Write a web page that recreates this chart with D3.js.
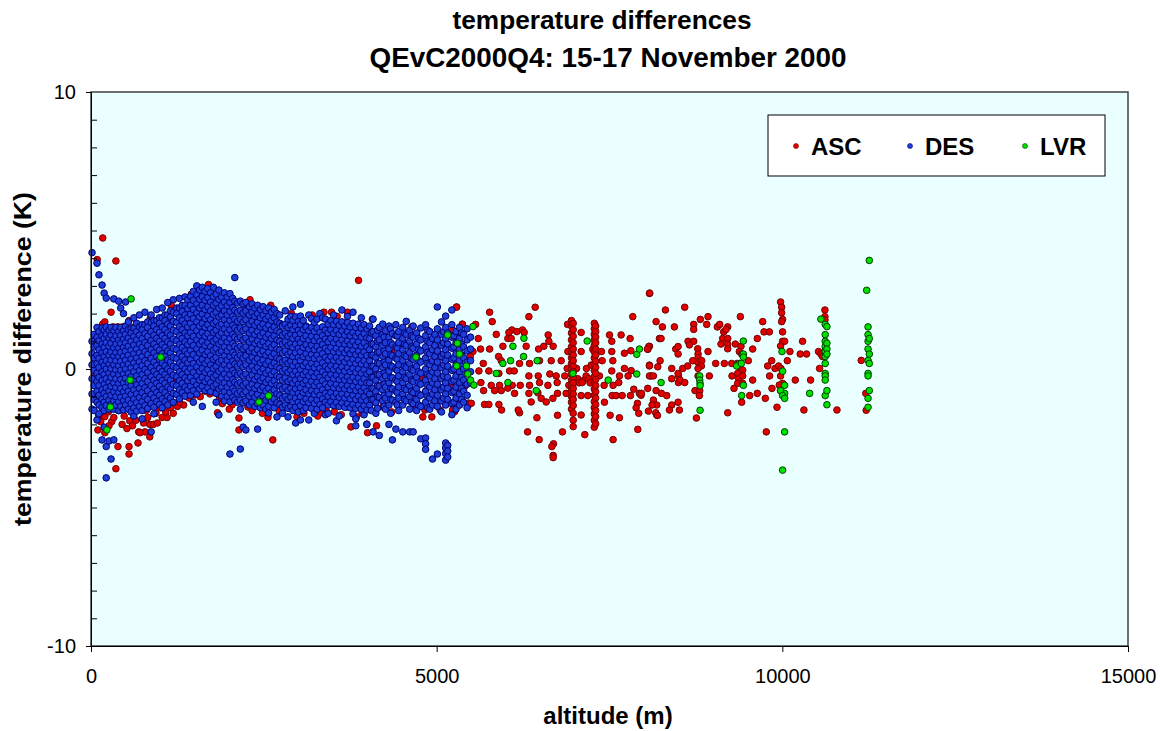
<!DOCTYPE html>
<html><head><meta charset="utf-8">
<script src="https://cdn.jsdelivr.net/npm/d3@7"></script>
<style>body{margin:0;background:#fff;}svg{display:block;font-family:"Liberation Sans",Arial,sans-serif;}</style>
</head><body>
<svg id="c" width="1160" height="731"></svg>
<script>
const titleLines=["temperature differences","QEvC2000Q4: 15-17 November 2000"];
const xLabel="altitude (m)";
const yLabel="temperature difference (K)";
const xTicks=[0,5000,10000,15000];
const yTicks=[-10,0,10];
const yMinorTicks=[-9,-8,-7,-6,-5,-4,-3,-2,-1,1,2,3,4,5,6,7,8,9];
const seriesNames=["ASC","DES","LVR"];

// DES: [altitude, [differences...]]
const desCols=[
[15,[4.2,1.0,0.55,0.15,-0.35,-0.9,-1.45]],
[45,[1.25,0.8,0.4,-0.05,-0.6,-1.1,-1.5]],
[87,[3.82,1.5,1.15,0.85,0.5,0.2,-0.15,-0.45,-0.8,-1.2,-1.84]],
[115,[3.4,1.35,1.02,0.7,0.38,0.05,-0.3,-0.6,-0.95,-1.3,-1.62]],
[160,[3.03,1.48,1.2,0.9,0.58,0.25,-0.1,-0.42,-0.75,-1.08,-1.4,-2.56]],
[190,[2.74,1.4,1.1,0.78,0.45,0.12,-0.2,-0.55,-0.88,-1.2,-1.5,-2.1]],
[220,[2.56,1.52,1.25,0.95,0.62,0.3,0.0,-0.35,-0.68,-1.0,-1.32,-2.8,-3.93]],
[260,[1.4,1.12,0.82,0.5,0.18,-0.15,-0.48,-0.8,-1.12,-1.45,-2.6]],
[290,[1.5,1.22,0.93,0.62,0.32,0.02,-0.3,-0.62,-0.95,-1.28,-3.25]],
[330,[2.53,1.38,1.08,0.77,0.47,0.15,-0.18,-0.5,-0.82,-1.15,-1.45,-2.56]],
[360,[1.5,1.2,0.9,0.6,0.3,-0.02,-0.35,-0.67,-1.0,-1.3]],
[400,[2.45,1.35,1.05,0.75,0.45,0.12,-0.2,-0.52,-0.85,-1.18,-1.5]],
[430,[2.2,1.5,1.22,0.92,0.6,0.28,-0.05,-0.38,-0.7,-1.02,-1.35]],
[470,[2.0,1.38,1.08,0.78,0.46,0.14,-0.18,-0.5,-0.83,-1.15,-1.48]],
[500,[2.42,1.55,1.25,0.95,0.64,0.32,0.0,-0.33,-0.66,-0.98,-1.3]],
[540,[1.7,1.42,1.12,0.82,0.5,0.18,-0.15,-0.48,-0.8,-1.12,-1.45]],
[580,[1.45,1.3,1.0,0.68,0.36,0.04,-0.28,-0.6,-0.92,-1.25,-1.55]],
[620,[1.85,1.48,1.18,0.86,0.55,0.22,-0.1,-0.42,-0.75,-1.08,-1.4,-1.7]],
[660,[1.65,1.35,1.05,0.72,0.4,0.08,-0.25,-0.57,-0.9,-1.22,-1.52]],
[700,[1.95,1.52,1.22,0.9,0.58,0.26,-0.06,-0.38,-0.7,-1.03,-1.35]],
[740,[1.6,1.42,1.1,0.78,0.45,0.12,-0.2,-0.52,-0.85,-1.18,-1.5,-1.8]],
[780,[2.05,1.6,1.28,0.95,0.62,0.3,-0.02,-0.35,-0.68,-1.0,-1.32]],
[820,[1.7,1.5,1.18,0.85,0.52,0.2,-0.12,-0.45,-0.78,-1.1,-1.42]],
[870,[1.95,1.68,1.35,1.02,0.7,0.38,0.05,-0.28,-0.6,-0.92,-1.25,-2.27]],
[910,[1.75,1.55,1.22,0.9,0.58,0.25,-0.08,-0.4,-0.72,-1.05,-1.38,-1.62]],
[950,[2.15,1.75,1.42,1.1,0.78,0.45,0.12,-0.2,-0.52,-0.85,-1.18]],
[990,[1.85,1.65,1.32,1.0,0.68,0.35,0.02,-0.3,-0.62,-0.95,-1.28]],
[1030,[2.2,1.85,1.52,1.2,0.88,0.55,0.22,-0.1,-0.42,-0.75,-1.08,-1.4]],
[1070,[1.95,1.75,1.42,1.1,0.78,0.45,0.12,-0.2,-0.52,-0.85,-1.18]],
[1110,[2.4,1.95,1.62,1.3,0.98,0.65,0.32,0.0,-0.32,-0.65,-0.98,-1.3]],
[1150,[2.1,1.88,1.55,1.22,0.9,0.58,0.25,-0.08,-0.4,-0.72,-1.05]],
[1190,[2.5,2.05,1.72,1.4,1.08,0.75,0.42,0.1,-0.22,-0.55,-0.88,-1.2]],
[1240,[2.2,2.0,1.68,1.35,1.02,0.7,0.38,0.05,-0.28,-0.6,-0.92]],
[1280,[2.55,2.2,1.85,1.52,1.2,0.88,0.55,0.22,-0.1,-0.42,-0.75,-1.08]],
[1320,[2.3,2.08,1.75,1.42,1.1,0.78,0.45,0.12,-0.2,-0.52,-0.85]],
[1360,[2.6,2.3,1.95,1.62,1.3,0.98,0.65,0.32,0.0,-0.32,-0.65,-0.98]],
[1400,[2.5,2.18,1.85,1.52,1.2,0.88,0.55,0.22,-0.1,-0.42,-0.75]],
[1440,[2.62,2.3,1.98,1.65,1.32,1.0,0.68,0.35,0.02,-0.3,-0.62,-0.95]],
[1480,[2.8,2.48,2.15,1.82,1.5,1.18,0.85,0.52,0.2,-0.12,-0.45,-0.78,-1.2]],
[1530,[3.0,2.68,2.35,2.02,1.7,1.38,1.05,0.72,0.4,0.08,-0.25,-0.58,-0.9]],
[1570,[2.85,2.52,2.2,1.88,1.55,1.22,0.9,0.58,0.25,-0.08,-0.4,-0.72]],
[1610,[2.95,2.62,2.3,1.98,1.65,1.32,1.0,0.68,0.35,0.02,-0.3,-0.62,-1.35]],
[1650,[2.8,2.48,2.15,1.82,1.5,1.18,0.85,0.52,0.2,-0.12,-0.45,-0.78]],
[1690,[2.9,2.58,2.25,1.92,1.6,1.28,0.95,0.62,0.3,-0.02,-0.35,-0.68]],
[1730,[2.75,2.42,2.1,1.78,1.45,1.12,0.8,0.48,0.15,-0.18,-0.5,-0.82]],
[1770,[2.95,2.62,2.3,1.98,1.65,1.32,1.0,0.68,0.35,0.02,-0.3,-0.62]],
[1810,[2.7,2.38,2.05,1.72,1.4,1.08,0.75,0.42,0.1,-0.22,-0.55,-0.88,-1.2]],
[1850,[2.85,2.52,2.2,1.88,1.55,1.22,0.9,0.58,0.25,-0.08,-0.4,-0.72,-1.66]],
[1890,[2.6,2.28,1.95,1.62,1.3,0.98,0.65,0.32,0.0,-0.32,-0.65,-0.98]],
[1930,[2.75,2.42,2.1,1.78,1.45,1.12,0.8,0.48,0.15,-0.18,-0.5,-0.82,-1.15]],
[1970,[2.6,2.28,1.95,1.62,1.3,0.98,0.65,0.32,0.0,-0.32,-0.65,-0.98]],
[2010,[2.72,2.4,2.08,1.75,1.42,1.1,0.78,0.45,0.12,-0.2,-0.52,-0.85,-1.18,-3.07]],
[2050,[2.55,2.22,1.9,1.58,1.25,0.92,0.6,0.28,-0.05,-0.38,-0.7,-1.02]],
[2080,[3.3,2.45,2.12,1.8,1.48,1.15,0.82,0.5,0.18,-0.15,-0.48,-0.8,-1.12]],
[2120,[2.38,2.05,1.72,1.4,1.08,0.75,0.42,0.1,-0.22,-0.55,-0.88,-1.2]],
[2160,[2.45,2.12,1.8,1.48,1.15,0.82,0.5,0.18,-0.15,-0.48,-0.8,-1.12,-1.45,-2.89]],
[2200,[2.35,2.02,1.7,1.38,1.05,0.72,0.4,0.08,-0.25,-0.58,-0.9,-1.22,-2.1]],
[2240,[2.4,2.1,1.78,1.45,1.12,0.8,0.48,0.15,-0.18,-0.5,-0.82,-1.15,-2.2]],
[2290,[2.25,1.95,1.62,1.3,0.98,0.65,0.32,0.0,-0.32,-0.65,-0.98,-1.3]],
[2330,[2.35,2.05,1.72,1.4,1.08,0.75,0.42,0.1,-0.22,-0.55,-0.88,-1.2]],
[2370,[2.2,1.9,1.58,1.25,0.92,0.6,0.28,-0.05,-0.38,-0.7,-1.02,-1.35]],
[2410,[2.3,2.0,1.68,1.35,1.02,0.7,0.38,0.05,-0.28,-0.6,-0.92,-1.25,-2.17]],
[2450,[2.15,1.85,1.52,1.2,0.88,0.55,0.22,-0.1,-0.42,-0.75,-1.08,-1.4]],
[2490,[2.25,1.95,1.62,1.3,0.98,0.65,0.32,0.0,-0.32,-0.65,-0.98,-1.3]],
[2530,[2.1,1.8,1.48,1.15,0.82,0.5,0.18,-0.15,-0.48,-0.8,-1.12,-1.45]],
[2570,[2.2,1.9,1.58,1.25,0.92,0.6,0.28,-0.05,-0.38,-0.7,-1.02,-1.35,-1.59]],
[2610,[2.05,1.75,1.42,1.1,0.78,0.45,0.12,-0.2,-0.52,-0.85,-1.18]],
[2650,[2.15,1.85,1.52,1.2,0.88,0.55,0.22,-0.1,-0.42,-0.75,-1.08,-1.4]],
[2690,[2.0,1.7,1.38,1.05,0.72,0.4,0.08,-0.25,-0.58,-0.9,-1.22,-1.73]],
[2730,[1.95,1.65,1.32,1.0,0.68,0.35,0.02,-0.3,-0.62,-0.95,-1.28]],
[2770,[1.6,1.55,1.22,0.9,0.58,0.25,-0.08,-0.4,-0.72,-1.05,-1.38,-1.6]],
[2810,[2.1,1.62,1.3,0.98,0.65,0.32,0.0,-0.32,-0.65,-0.98,-1.3]],
[2850,[1.8,1.5,1.18,0.85,0.52,0.2,-0.12,-0.45,-0.78,-1.1,-1.42,-1.73]],
[2890,[1.9,1.58,1.25,0.92,0.6,0.28,-0.05,-0.38,-0.7,-1.02,-1.35]],
[2920,[2.24,1.75,1.42,1.1,0.78,0.45,0.12,-0.2,-0.52,-0.85,-1.18,-1.5]],
[2960,[1.88,1.55,1.22,0.9,0.58,0.25,-0.08,-0.4,-0.72,-1.05,-1.38,-1.95]],
[3000,[1.72,1.4,1.08,0.75,0.42,0.1,-0.22,-0.55,-0.88,-1.2,-1.55]],
[3030,[2.34,1.91,1.6,1.28,0.95,0.62,0.3,-0.02,-0.35,-0.68,-1.0,-1.32,-1.84]],
[3070,[1.75,1.42,1.1,0.78,0.45,0.12,-0.2,-0.52,-0.85,-1.18,-1.5]],
[3110,[1.55,1.52,1.2,0.88,0.55,0.22,-0.1,-0.42,-0.75,-1.08,-1.4]],
[3150,[1.95,1.38,1.05,0.72,0.4,0.08,-0.25,-0.58,-0.9,-1.22,-1.84]],
[3190,[1.82,1.5,1.18,0.85,0.52,0.2,-0.12,-0.45,-0.78,-1.1,-1.42]],
[3230,[1.68,1.35,1.02,0.7,0.38,0.05,-0.28,-0.6,-0.92,-1.25,-1.6]],
[3270,[1.8,1.48,1.15,0.82,0.5,0.18,-0.15,-0.48,-0.8,-1.12,-1.45]],
[3310,[2.0,1.32,1.0,0.68,0.35,0.02,-0.3,-0.62,-0.95,-1.28]],
[3350,[1.85,1.52,1.2,0.88,0.55,0.22,-0.1,-0.42,-0.75,-1.08,-1.4]],
[3390,[1.8,1.4,1.08,0.75,0.42,0.1,-0.22,-0.55,-0.88,-1.2,-1.65]],
[3430,[1.62,1.3,0.98,0.65,0.32,0.0,-0.32,-0.65,-0.98,-1.3,-1.6]],
[3470,[1.75,1.42,1.1,0.78,0.45,0.12,-0.2,-0.52,-0.85,-1.18]],
[3510,[1.95,1.6,1.28,0.95,0.62,0.3,-0.02,-0.35,-0.68,-1.0,-1.32]],
[3550,[1.72,1.4,1.08,0.75,0.42,0.1,-0.22,-0.55,-0.88,-1.2,-1.87]],
[3590,[1.58,1.25,0.92,0.6,0.28,-0.05,-0.38,-0.7,-1.02,-1.35,-1.7]],
[3630,[2.13,1.7,1.38,1.05,0.72,0.4,0.08,-0.25,-0.58,-0.9,-1.22]],
[3670,[1.55,1.22,0.9,0.58,0.25,-0.08,-0.4,-0.72,-1.05,-1.38]],
[3710,[1.9,1.68,1.35,1.02,0.7,0.38,0.05,-0.28,-0.6,-0.92,-1.25]],
[3750,[1.52,1.2,0.88,0.55,0.22,-0.1,-0.42,-0.75,-1.08,-1.4]],
[3790,[2.05,1.65,1.32,1.0,0.68,0.35,0.02,-0.3,-0.62,-0.95,-1.28,-1.62]],
[3830,[1.5,1.18,0.85,0.52,0.2,-0.12,-0.45,-0.78,-1.1,-1.42,-1.8,-2.05]],
[3870,[1.62,1.3,0.98,0.65,0.32,0.0,-0.32,-0.65,-0.98,-1.3]],
[3910,[1.85,1.48,1.15,0.82,0.5,0.18,-0.15,-0.48,-0.8,-1.12,-1.45]],
[3950,[1.6,1.28,0.95,0.62,0.3,-0.02,-0.35,-0.68,-1.0,-1.32,-1.65]],
[3990,[1.45,1.12,0.8,0.48,0.15,-0.18,-0.5,-0.82,-1.15,-1.48,-2.0]],
[4030,[1.55,1.1,0.7,0.3,-0.1,-0.5,-0.9,-1.3]],
[4055,[1.3,0.9,0.5,0.1,-0.3,-0.7,-1.1,-1.5]],
[4080,[1.8,1.35,0.9,0.5,0.1,-0.3,-0.7,-1.1,-2.27]],
[4120,[1.2,0.8,0.42,0.0,-0.42,-0.82,-1.22,-1.6]],
[4145,[1.4,1.0,0.6,0.22,-0.2,-0.6,-1.0,-1.42]],
[4170,[1.5,1.05,0.62,0.2,-0.2,-0.62,-1.02,-2.4]],
[4220,[1.62,1.25,0.85,0.45,0.05,-0.35,-0.75,-1.15]],
[4240,[1.15,0.65,0.25,-0.15,-0.55,-0.95,-1.35]],
[4260,[1.38,0.95,0.55,0.15,-0.25,-0.65,-1.05,-1.45]],
[4310,[1.55,1.15,0.72,0.32,-0.08,-0.5,-0.9,-1.3,-2.0]],
[4335,[1.45,0.95,0.52,0.12,-0.3,-0.7,-1.1,-1.6]],
[4360,[1.28,0.88,0.48,0.08,-0.32,-0.72,-1.12,-2.56]],
[4410,[1.6,1.2,0.8,0.4,0.0,-0.4,-0.8,-1.2,-2.17]],
[4430,[1.2,0.75,0.35,-0.05,-0.45,-0.85,-1.3]],
[4450,[1.35,0.95,0.55,0.15,-0.25,-0.65,-1.05,-1.5]],
[4510,[1.5,1.1,0.7,0.3,-0.1,-0.5,-0.9,-1.3,-2.27]],
[4535,[1.3,0.9,0.5,0.1,-0.3,-0.7,-1.1]],
[4560,[1.72,1.25,0.85,0.45,0.05,-0.35,-0.75,-1.15]],
[4610,[1.4,1.0,0.6,0.2,-0.2,-0.6,-1.0,-1.45,-2.27]],
[4635,[1.2,0.8,0.4,0.0,-0.4,-0.8,-1.2]],
[4660,[1.55,1.15,0.75,0.35,-0.05,-0.45,-0.85,-1.25,-2.27]],
[4710,[1.3,0.9,0.5,0.1,-0.3,-0.7,-1.1,-1.5]],
[4740,[1.1,0.7,0.3,-0.1,-0.5,-0.9,-1.3]],
[4770,[1.48,1.05,0.65,0.25,-0.15,-0.55,-0.95,-1.35,-2.52]],
[4840,[1.6,1.2,0.8,0.4,0.0,-0.4,-0.8,-1.2,-2.49,-2.7,-2.9]],
[4870,[1.4,1.0,0.6,0.2,-0.2,-0.6,-1.0,-1.4]],
[4900,[1.35,0.95,0.55,0.15,-0.25,-0.65,-1.05,-1.45]],
[4940,[1.1,0.7,0.3,-0.1,-0.5,-0.9,-1.3,-3.25]],
[4975,[1.25,0.85,0.45,0.05,-0.35,-0.75,-1.15]],
[5010,[2.24,1.45,1.05,0.65,0.25,-0.15,-0.55,-0.95,-1.35,-3.07]],
[5070,[1.7,1.25,0.85,0.45,0.05,-0.35,-0.75,-1.15,-1.55]],
[5100,[1.35,0.95,0.55,0.15,-0.25,-0.65,-1.05]],
[5130,[1.91,1.5,1.1,0.7,0.3,-0.1,-0.5,-0.9,-1.3,-2.67,-2.85,-3.05,-3.29]],
[5160,[1.3,0.9,0.5,0.1,-0.3,-0.7,-1.1,-2.76,-2.96,-3.18]],
[5220,[2.13,1.6,1.15,0.75,0.35,-0.05,-0.45,-0.85,-1.25,-1.65]],
[5250,[1.2,0.8,0.4,0.0,-0.4,-0.8,-1.2]],
[5280,[1.35,0.95,0.55,0.15,-0.25,-0.65,-1.05,-1.45]],
[5330,[1.5,1.1,0.7,0.3,-0.1,-0.5,-0.9,-1.3]],
[5360,[1.3,0.9,0.5,0.1,-0.3,-0.7,-1.1]],
[5390,[1.25,0.8,0.4,0.0,-0.4,-0.8,-1.2]],
[5440,[1.45,1.05,0.65,0.25,-0.15,-0.55,-0.95,-1.4]],
[5490,[1.15,0.72,0.3,-0.1,-0.5]]
];

// ASC vertical sounding columns: [altitude, [differences...]]
const ascCols=[
[6950,[1.75,1.55,1.3,1.05,0.8,0.6,0.4,0.2,0.0,-0.2,-0.4,-0.6,-0.8,-1.0,-1.2,-1.45]],
[6975,[1.65,1.42,1.18,0.95,0.72,0.5,0.3,0.1,-0.1,-0.3,-0.5,-0.7,-0.9,-1.1,-1.32,-1.6,-1.85,-2.08]],
[7280,[1.65,1.45,1.25,1.05,0.85,0.62,0.4,0.18,-0.05,-0.28,-0.5,-0.72,-0.95,-1.18,-1.4,-1.62,-1.85,-2.1]],
[7300,[1.55,1.35,1.15,0.95,0.72,0.5,0.28,0.06,-0.16,-0.38,-0.6,-0.82,-1.05,-1.28,-1.5,-1.72,-1.98]]
];
// ASC scattered points: [altitude, difference]
const ascPts=[
[170,4.73],[360,3.9],[90,3.95],[290,2.05],[170,1.62],[320,1.52],[390,1.52],[460,1.52],[610,1.5],[680,1.52],[750,1.48],[1030,1.73],[1100,1.73],[1290,2.2],[1910,2.13],[2220,2.2],
[200,1.7],[550,1.75],[860,1.85],[1160,2.3],[1450,2.7],[1700,3.05],[2300,2.5],[2600,2.3],[2900,2.0],[3200,1.95],[3560,1.9],
[30,-0.94],[60,-0.25],[130,-0.25],[100,-2.2],[170,-1.7],[200,-1.72],[200,-2.3],[390,-2.8],[550,-2.8],[550,-3.07],[360,-3.6],[680,-2.67],[690,-2.27],[780,-2.27],[850,-2.45],[850,-2.0],[900,-2.0],[960,-1.95],[1030,-1.75],[1100,-1.75],[1190,-1.6],[1340,-1.3],[1500,-0.94],[1650,-0.8],[1800,-0.7],[1830,-1.58],[1860,-1.05],[2040,-1.3],[2140,-1.77],[2140,-2.2],[2270,-1.37],[2630,-2.56],[560,-1.87],[110,-1.66],[710,-2.3],[300,-1.9],[450,-2.0],[620,-1.6],[800,-1.5],[1000,-1.4],[1250,-1.35],[400,-1.5],[250,-1.55],
[140,-1.9],[260,-2.05],[330,-1.75],[480,-1.7],[520,-2.15],[600,-2.05],[650,-1.85],[760,-1.95],[820,-1.75],[940,-1.6],[1080,-1.55],[1150,-1.4],[1280,-1.2],[1420,-1.05],[1580,-1.0],[1720,-0.9],[1900,-1.25],[2000,-1.45],[2330,-1.5],[2480,-1.6],[2560,-1.75],[2720,-1.5],[3080,-1.6],[3280,-1.7],[3520,-1.55],[3620,-1.65],[3920,-1.6],
[2850,-1.37],[2890,-1.2],[2980,-1.73],[3150,-1.05],[3240,-1.23],[3340,-1.58],[3400,-1.48],[3700,-1.37],[3760,-2.09],[3840,-1.73],[3990,-1.99],[4000,-2.3],[4130,-2.05],[3870,3.2],[3370,2.05],[3480,2.05],[3710,2.05],[3660,1.44],[3930,1.34],[4070,1.8],[3410,1.26],
[4640,1.52],[5290,2.24],[5370,1.62],[4450,-0.5],[4100,-1.05],[4220,-1.37],[4350,-1.55],[4710,-1.37],[4800,-1.73],[4930,-1.73],[5230,-1.23],[5320,-1.2],[5370,-0.65],[5460,-1.23],[5230,1.4],[5300,1.16],[5000,0.76],[4830,-1.48],[5050,-1.48],[5230,-1.48],[5330,-1.3],[5460,-1.3],[5284,-0.76],[5404,-0.64],[5140,-1.24],[5260,-1.54],
[300,0.5],[600,-0.3],[900,0.8],[1200,-0.5],[1500,1.0],[1800,0.2],[2100,1.5],[2400,-0.7],[2700,0.4],[3000,-0.9],[3300,0.7],[3600,-0.2],[3900,1.1],[4200,-0.6],[4500,0.9],[4800,-0.3],[5100,0.4],[150,0.0],[450,0.9],[750,-0.6],[1050,0.3],[1350,-0.2],[1650,1.8],[1950,-0.4],[2250,0.6],[2550,1.2],[2850,-0.5],[3150,0.3],[3450,-0.8],[3750,0.5],[4050,-0.1],[4350,0.6],[4650,-0.9],[4950,1.1],[5200,-0.6],
[8078,2.73],[6425,2.23],[5766,2.05],[5284,2.23],[5804,1.71],[6334,1.89],[7837,1.89],[8174,1.71],[5371,1.61],[5563,1.61],
[6088,1.41],[6160,1.35],[6242,1.41],[6266,1.32],[6045,1.32],[5602,1.1],[5862,1.25],[6030,1.1],[6078,1.1],[6613,1.23],[6893,1.61],[7090,1.32],[7500,1.23],[7668,1.23],[7798,1.1],[7533,1.0],[8078,0.82],[8222,1.1],
[5635,0.72],[5766,0.72],[5958,0.82],[6295,0.82],[6474,0.72],[6550,0.82],[6685,0.82],[6623,1.0],[6898,0.63],[7090,0.63],[7259,0.71],[7384,0.63],[7533,0.63],[7716,0.57],[7808,0.66],[8054,0.71],
[5525,0.63],[5332,0.27],[5486,0.45],[5674,0.2],[5896,0.45],[5934,0.3],[6199,0.2],[6344,0.2],[6488,0.3],[6657,0.3],[6801,0.3],[6888,0.02],[7023,0.02],[7167,0.02],[7235,0.14],[7394,0.3],[7548,0.3],[7716,0.02],[7813,-0.06],[8078,0.14],[8198,0.08],
[5611,-0.07],[5755,-0.07],[5900,-0.16],[6054,-0.07],[6122,-0.07],[6334,-0.25],[6469,-0.25],[6637,-0.18],[6729,-0.25],[6854,-0.25],[7162,-0.25],[7355,-0.25],[7533,-0.07],[7644,-0.25],[7769,-0.25],[8101,-0.25],
[7040,-0.35],[7120,-0.42],[7200,-0.35],[7220,-0.5],[7060,-0.5],
[5640,-0.49],[5789,-0.59],[5910,-0.59],[6093,-0.59],[6209,-0.59],[6344,-0.59],[6488,-0.49],[6609,-0.59],[6743,-0.49],[6912,-0.59],[7105,-0.49],[7422,-0.59],[7552,-0.59],[7634,-0.49],[7851,-0.73],[7933,-0.88],[7957,-0.95],
[5679,-0.78],[5838,-0.78],[5934,-0.78],[6030,-0.69],[6127,-0.88],[6334,-0.88],[6464,-0.86],[6512,-1.06],[6681,-1.06],[6748,-0.88],[6873,-0.88],[7090,-0.96],[7186,-0.96],[7427,-1.2],[7538,-0.96],[7596,-0.96],[7683,-0.96],[7803,-0.96],[7904,-1.24],[7885,-1.4],[8063,-1.52],[8183,-1.66],
[5501,-1.24],[5693,-1.28],[5755,-1.28],[5900,-1.28],[5939,-1.48],[6199,-1.58],[6180,-1.48],[6367,-1.19],[6584,-1.19],[6748,-1.67],[7090,-1.66],[7509,-1.67],[7644,-1.76],[7923,-1.6],
[6450,-1.76],[6315,-2.27],[6483,-2.55],[6820,-2.27],[7143,-2.37],[7552,-2.55],[7909,-2.18],[6690,-2.7],[6666,-2.8],[6685,-3.12],[6685,-3.2],
[8082,2.74],[8309,2.13],[8588,2.23],[8265,1.52],[8439,1.52],[8718,1.61],[8718,1.43],[8814,1.79],[8925,1.89],[8906,1.61],[9060,1.52],[9094,1.61],[9210,1.52],[9152,1.34],[9186,1.43],[9393,1.89],[9716,1.71],[9735,1.34],[9812,1.34],[9638,1.1],[9975,2.42],[9990,2.23],[9990,2.03],[10004,1.79],[9990,1.71],[10004,1.34],[10004,1.0],[10033,1.0],[9975,0.83],[10293,1.0],[10616,2.13],[10616,1.89],[10616,1.77],
[8246,1.1],[8068,0.81],[8049,0.72],[8458,0.72],[8492,0.81],[8492,0.54],[8636,1.0],[8718,1.0],[8656,0.87],[8776,0.73],[8781,0.54],[8781,0.41],[8776,0.25],[8925,0.63],[9137,1.1],[9113,0.9],[9210,1.1],[9210,0.9],[9210,0.73],[9320,0.9],[9402,0.82],[9378,0.63],[9412,0.54],[9571,0.72],[10110,0.63],[10259,0.54],[10351,0.54],[10524,0.63],[10558,0.54],[11141,0.31],
[8078,0.11],[8232,0.3],[8400,0.02],[8559,0.02],[8631,0.11],[8704,0.3],[8834,0.3],[8829,0.11],[8781,0.02],[9036,0.2],[9161,0.2],[9268,0.2],[9345,0.2],[9508,0.3],[9393,0.02],[9427,-0.04],[9788,0.11],[9846,0.3],[9894,0.02],[9947,0.11],[9980,0.02],[10072,0.3],[10539,0.02],[10582,0.45],
[8078,-0.25],[8135,-0.25],[8400,-0.35],[8497,-0.25],[8497,-0.49],[8521,-0.4],[8492,-0.16],[8588,-0.49],[8781,-0.25],[8944,-0.25],[8737,-0.78],[8805,-0.78],[8800,-0.96],[9272,-0.25],[9354,-0.16],[9368,-0.35],[9427,-0.25],[9354,-0.52],[9427,-0.52],[9301,-0.7],[9571,-0.4],[9816,-0.25],[9975,-0.25],[10004,-0.52],[10187,-0.4],[10409,-0.4],[9850,-0.7],[9956,-0.58],[9975,-0.78],
[7962,-0.88],[8053,-0.7],[8174,-0.78],[8251,-0.88],[8328,-0.96],[8135,-1.12],[8183,-1.3],[8116,-1.3],[8169,-1.58],[8193,-1.68],[8400,-1.3],[8492,-1.2],[8367,-1.48],[8511,-1.48],[9210,-1.58],[9412,-1.2],[9528,-0.96],[9638,-0.88],[9754,-1.06],[9923,-1.38],[10312,-1.48],[10790,-1.48],[11213,-1.49],[11208,-0.88],[8757,-1.77],[9768,-2.27]
];

// LVR columns and points
const lvrCols=[
[10620,[1.61,1.24,1.0,0.81,0.63,0.45,0.2,-0.16,-0.25,-0.4,-0.96]],
[10645,[1.53,0.93,0.72,0.54,-0.78,-1.29]],
[11240,[1.52,1.24,1.0,0.72,0.31,-0.16,-0.25,-1.06,-1.38]],
[11258,[3.92,1.1,0.54,0.2,-0.78]],
[11220,[2.84]]
];
const lvrPts=[
[580,2.53],[1010,0.43],[565,-0.4],[280,-1.37],[230,-2.2],[2430,-1.19],[2570,-0.97],[4700,0.43],[5160,1.23],[5300,0.93],[5330,0.54],[5290,0.11],[5430,0.11],[5450,-0.18],[5490,-0.4],[5539,-0.58],[5525,1.53],
[5862,-0.16],[5958,0.2],[6069,0.3],[6103,0.82],[6262,1.11],[6257,0.45],[6454,0.3],[6030,-0.49],[6440,-0.78],[6970,-0.16],[7177,1.01],[7481,-0.4],[7894,-0.18],[7894,0.53],[7933,0.72],
[8246,-0.49],[8805,-0.25],[8805,-0.4],[8810,-0.52],[8810,-0.6],[8810,-1.49],[9436,1.01],[9436,0.54],[9436,0.43],[9378,0.2],[9340,0.11],[9407,0.2],[9436,-0.59],[9412,-0.96],[9995,0.63],[10004,-0.08],[10033,-0.59],[10033,-0.88],[9975,-0.78],[10004,-0.96],[10033,-1.06],[10033,-2.27],[10004,-3.65],
[10558,1.8],[10395,-0.88]
];

const colors={ASC:{fill:"#e00000",stroke:"#780000"},DES:{fill:"#1f3fd9",stroke:"#000070"},LVR:{fill:"#00e000",stroke:"#004000"}};

const flat=cols=>cols.flatMap(([a,vs])=>vs.map(v=>[a,v]));
const series=[
 {name:"ASC",pts:ascPts.concat(flat(ascCols))},
 {name:"DES",pts:flat(desCols)},
 {name:"LVR",pts:lvrPts.concat(flat(lvrCols))}
];

const svg=d3.select("#c");
const L=91,R=1128,T=92,B=646;
const x=d3.scaleLinear().domain([0,15000]).range([L,R]);
const y=d3.scaleLinear().domain([-10,10]).range([B,T]);
const fmt=d=>String(d);

svg.append("rect").attr("x",L).attr("y",T).attr("width",R-L).attr("height",B-T).attr("fill","#eaffff");

const pg=svg.append("g");
series.forEach(s=>{
  pg.append("g").selectAll("circle").data(s.pts).join("circle")
   .attr("cx",d=>x(d[0])).attr("cy",d=>y(d[1])).attr("r",3.3)
   .attr("fill",colors[s.name].fill).attr("stroke",colors[s.name].stroke).attr("stroke-width",1);
});

svg.append("rect").attr("x",L).attr("y",T).attr("width",R-L).attr("height",B-T).attr("fill","none").attr("stroke","#404040").attr("stroke-width",1.5);

// x axis
const xa=svg.append("g").attr("transform",`translate(0,${B})`)
 .call(d3.axisBottom(x).tickValues(xTicks).tickSize(6).tickPadding(17).tickFormat(fmt));
xa.select(".domain").attr("stroke","#000");
xa.selectAll("line").attr("stroke","#000");
xa.selectAll("text").attr("font-size",20).attr("font-family","Liberation Sans, Arial, sans-serif").attr("fill","#000");

// y axis
const ya=svg.append("g").attr("transform",`translate(${L},0)`)
 .call(d3.axisLeft(y).tickValues(yTicks).tickSize(5).tickPadding(10).tickFormat(fmt));
ya.select(".domain").attr("stroke","#000");
ya.selectAll("line").attr("stroke","#000");
ya.selectAll("text").attr("font-size",20).attr("font-family","Liberation Sans, Arial, sans-serif").attr("fill","#000");
const ym=svg.append("g").attr("transform",`translate(${L},0)`)
 .call(d3.axisRight(y).tickValues(yMinorTicks).tickSize(6).tickFormat(""));
ym.select(".domain").remove();
ym.selectAll("line").attr("stroke","#000");

// titles
svg.append("text").attr("x",602).attr("y",29).attr("text-anchor","middle").attr("font-weight","bold").attr("font-size",26)
  .attr("textLength",299).attr("lengthAdjust","spacingAndGlyphs").text(titleLines[0]);
svg.append("text").attr("x",608).attr("y",67).attr("text-anchor","middle").attr("font-weight","bold").attr("font-size",27)
  .attr("textLength",477).attr("lengthAdjust","spacingAndGlyphs").text(titleLines[1]);
svg.append("text").attr("x",608).attr("y",724).attr("text-anchor","middle").attr("font-weight","bold").attr("font-size",24).text(xLabel);
svg.append("text").attr("transform","translate(31,359) rotate(-90)").attr("text-anchor","middle").attr("font-weight","bold").attr("font-size",24)
  .attr("textLength",334).attr("lengthAdjust","spacingAndGlyphs").text(yLabel);

// legend
const lg=svg.append("g");
lg.append("rect").attr("x",768).attr("y",115).attr("width",337).attr("height",61).attr("fill","#fff").attr("stroke","#000").attr("stroke-width",1);
const lx=[796,910,1025];
seriesNames.forEach((n,i)=>{
  lg.append("circle").attr("cx",lx[i]).attr("cy",146).attr("r",2.5).attr("fill",colors[n].fill).attr("stroke",colors[n].stroke).attr("stroke-width",0.6);
  lg.append("text").attr("x",lx[i]+15).attr("y",155).attr("font-weight","bold").attr("font-size",24).text(n);
});
</script>
</body></html>
